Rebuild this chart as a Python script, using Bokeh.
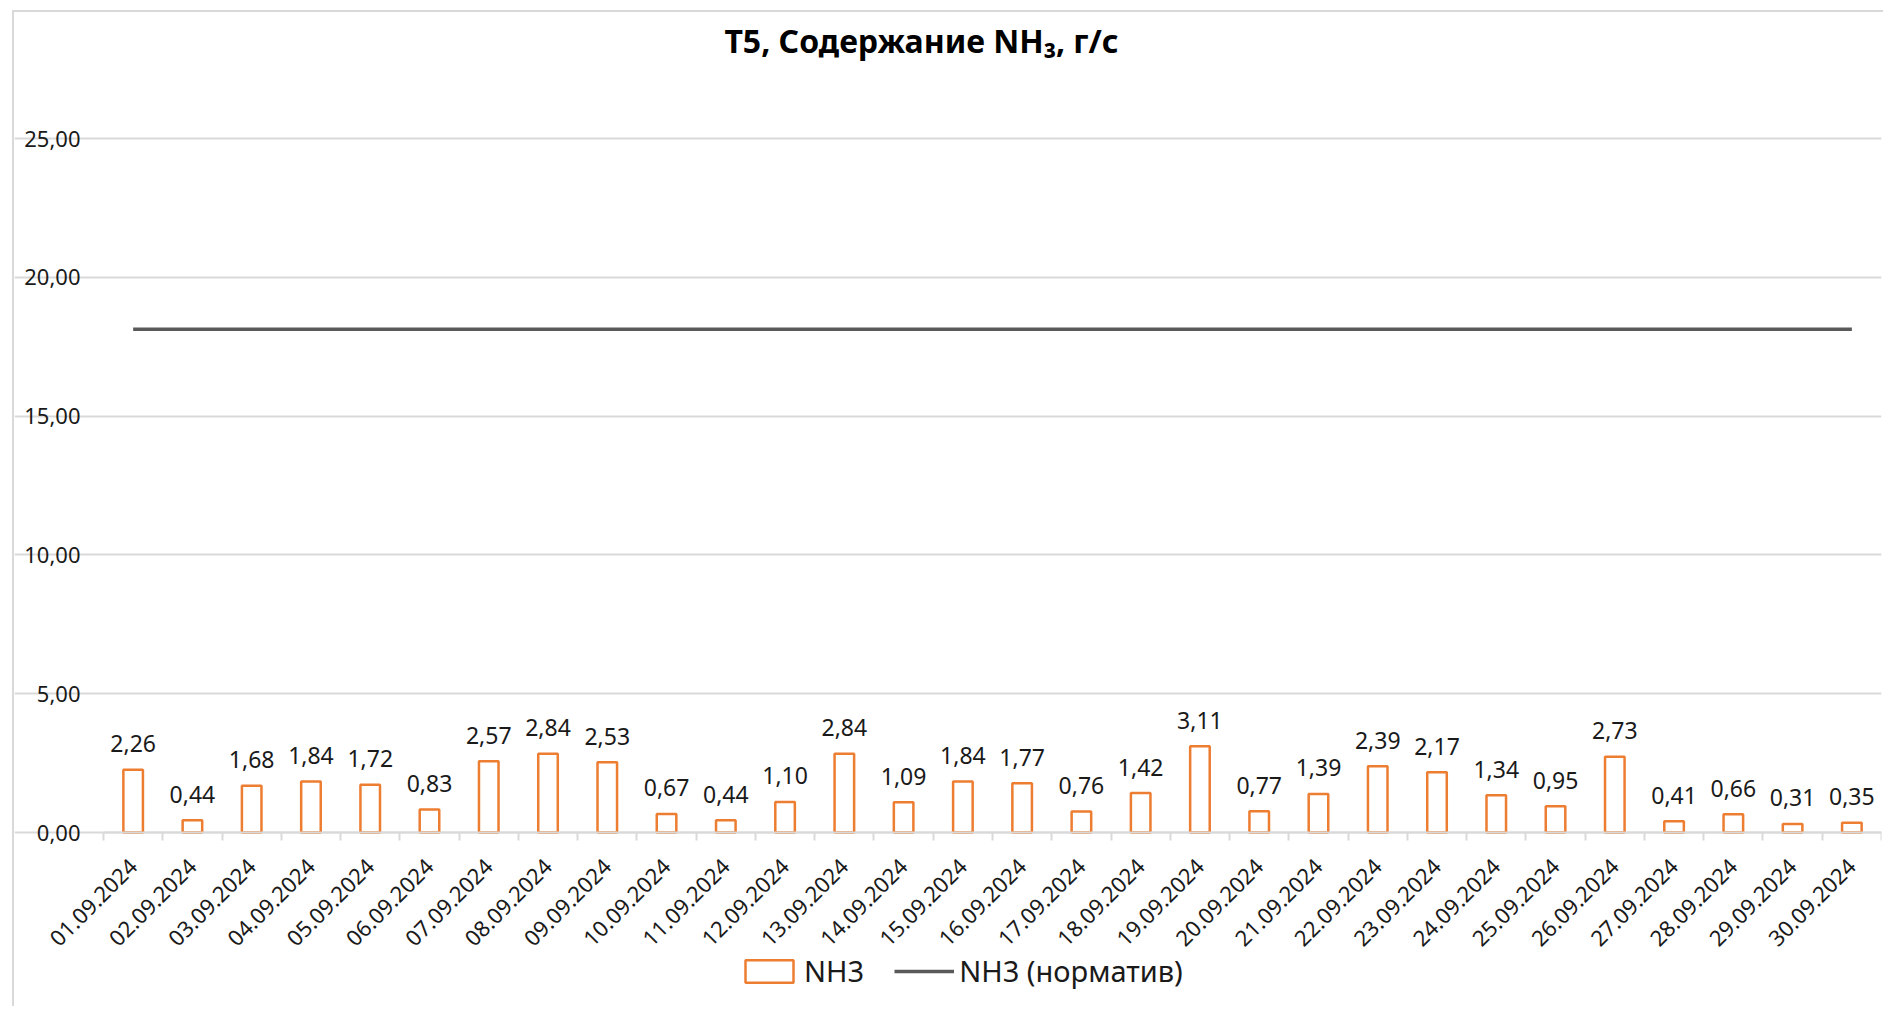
from math import pi
from bokeh.plotting import figure
from bokeh.models import (ColumnDataSource, FixedTicker, Label, Legend, LegendItem)
from bokeh.core.properties import value
from bokeh.embed import file_html
from bokeh.resources import INLINE

# ---- data ----
dates = ["01.09.2024", "02.09.2024", "03.09.2024", "04.09.2024", "05.09.2024",
         "06.09.2024", "07.09.2024", "08.09.2024", "09.09.2024", "10.09.2024",
         "11.09.2024", "12.09.2024", "13.09.2024", "14.09.2024", "15.09.2024",
         "16.09.2024", "17.09.2024", "18.09.2024", "19.09.2024", "20.09.2024",
         "21.09.2024", "22.09.2024", "23.09.2024", "24.09.2024", "25.09.2024",
         "26.09.2024", "27.09.2024", "28.09.2024", "29.09.2024", "30.09.2024"]
nh3 = [2.26, 0.44, 1.68, 1.84, 1.72, 0.83, 2.57, 2.84, 2.53, 0.67,
       0.44, 1.10, 2.84, 1.09, 1.84, 1.77, 0.76, 1.42, 3.11, 0.77,
       1.39, 2.39, 2.17, 1.34, 0.95, 2.73, 0.41, 0.66, 0.31, 0.35]
nh3_norm = [18.13, 18.13, 18.13, 18.13, 18.13, 18.13, 18.13, 18.13, 18.13, 18.13,
            18.13, 18.13, 18.13, 18.13, 18.13, 18.13, 18.13, 18.13, 18.13, 18.13,
            18.13, 18.13, 18.13, 18.13, 18.13, 18.13, 18.13, 18.13, 18.13, 18.13]
y_ticks = [0, 5, 10, 15, 20, 25]
y_tick_labels = ["0,00", "5,00", "10,00", "15,00", "20,00", "25,00"]
title_text = "T5, Содержание NH\u2083, г/с"
series_names = ["NH3", "NH3 (норматив)"]

FONT = "Noto Sans"
ORANGE = "#ED7D31"
GREY_LINE = "#595959"
GRID = "#D9D9D9"
TEXT = "#1a1a1a"

n = len(dates)
xpos = [i + 0.5 for i in range(n)]
labels = [f"{v:.2f}".replace(".", ",") for v in nh3]

src = ColumnDataSource(dict(x=xpos, nh3=nh3, norm=nh3_norm, lab=labels))

W, H = 1871, 996
p = figure(width=W, height=H, output_backend="svg", toolbar_location=None,
           x_range=(-1.502, n), y_range=(-6.34, 29.54),
           min_border_left=0, min_border_right=4, min_border_top=0,
           min_border_bottom=0, margin=(10, 0, 0, 12),
           styles={"border-left": "2px solid #D9D9D9", "border-top": "2px solid #D9D9D9"})
p.outline_line_color = None
p.background_fill_color = "white"
p.border_fill_color = "white"

bars = p.vbar(x="x", top="nh3", width=0.33, bottom=0, source=src,
              fill_color="white", line_color=ORANGE, line_width=2.5)
line = p.line(x="x", y="norm", source=src, line_color=GREY_LINE, line_width=3.5)

p.text(x="x", y="nh3", text="lab", source=src, text_align="center",
       text_baseline="middle", y_offset=-26,
       text_font=value(FONT), text_font_size="23px", text_color=TEXT)

# x axis, pinned at y = 0 inside the frame
xt = FixedTicker(ticks=xpos, minor_ticks=list(range(n + 1)))
p.xaxis.fixed_location = 0
p.xaxis.bounds = (0, n)
p.xaxis.ticker = xt
p.xaxis.major_label_overrides = {x: d for x, d in zip(xpos, dates)}
p.xaxis.major_label_orientation = pi / 4
p.xaxis.major_tick_line_color = None
p.xaxis.major_tick_out = 0
p.xaxis.major_tick_in = 0
p.xaxis.minor_tick_line_color = GRID
p.xaxis.minor_tick_line_width = 2
p.xaxis.minor_tick_out = 8
p.xaxis.minor_tick_in = 0
p.xaxis.axis_line_color = GRID
p.xaxis.axis_line_width = 2
p.xaxis.major_label_text_font = FONT
p.xaxis.major_label_text_font_size = "22px"
p.xaxis.major_label_text_color = TEXT
p.xaxis.major_label_standoff = 22

# y axis, pinned at the left edge of the category area
p.yaxis.fixed_location = 0
p.yaxis.ticker = FixedTicker(ticks=y_ticks)
p.yaxis.major_label_overrides = {t: l for t, l in zip(y_ticks, y_tick_labels)}
p.yaxis.axis_line_color = None
p.yaxis.major_tick_line_color = None
p.yaxis.minor_tick_line_color = None
p.yaxis.major_tick_out = 0
p.yaxis.major_label_text_font = FONT
p.yaxis.major_label_text_font_size = "22px"
p.yaxis.major_label_text_color = TEXT
p.yaxis.major_label_standoff = 23

p.xgrid.grid_line_color = None
p.ygrid.grid_line_color = GRID
p.ygrid.grid_line_width = 2
p.ygrid.bounds = (0, n)

# title
p.add_layout(Label(x=907, y=968, x_units="screen", y_units="screen",
                   text=title_text, text_align="center", text_baseline="middle",
                   text_font=FONT, text_font_size="32px", text_font_style="bold",
                   text_color="black"))

legend = Legend(items=[LegendItem(label=series_names[0], renderers=[bars]),
                       LegendItem(label=series_names[1], renderers=[line])],
                orientation="horizontal", location=(725, 18),
                label_text_font=FONT, label_text_font_size="29px",
                label_text_color=TEXT,
                glyph_width=60, glyph_height=28, label_standoff=5, spacing=30,
                padding=0, margin=0, border_line_color=None,
                background_fill_alpha=0)
p.add_layout(legend, "center")

open("out.html", "w").write(file_html(p, INLINE))
